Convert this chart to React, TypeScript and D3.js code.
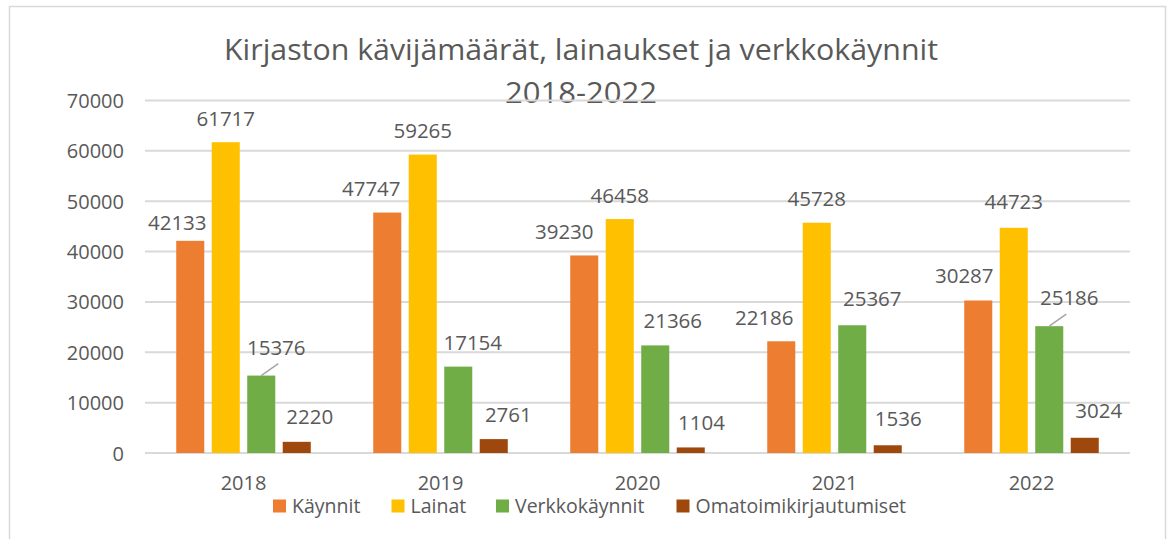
import React from "react";
import * as d3 from "d3";

const years = ["2018", "2019", "2020", "2021", "2022"];
const seriesNames = ["Käynnit", "Lainat", "Verkkokäynnit", "Omatoimikirjautumiset"];
const kaynnit = [42133, 47747, 39230, 22186, 30287];
const lainat = [61717, 59265, 46458, 45728, 44723];
const verkkokaynnit = [15376, 17154, 21366, 25367, 25186];
const omatoimi = [2220, 2761, 1104, 1536, 3024];
const yTicks = [0, 10000, 20000, 30000, 40000, 50000, 60000, 70000];
const colors = ["#ED7D31", "#FFC000", "#70AD47", "#9E480E"];
const titleLines = ["Kirjaston kävijämäärät, lainaukset ja verkkokäynnit", "2018-2022"];

// manual label nudges (dx, dy) per series/year, like moved Excel data labels
const labelNudges = [
  [[-13, 6], [-16, 0], [-20, 0], [-17, 0], [-14, -0.5]],
  [[0, 0], [0, 0], [0, 0], [0, -0.5], [0, -2.5]],
  [[15, -4.5], [14.5, -0.5], [17.5, -0.5], [20, -2.5], [20, -5]],
  [[13, -1], [14.6, -0.3], [10.7, -0.5], [10.5, -3], [14, -3.5]],
];
const leaderLines = [
  [false, false, false, false, false],
  [false, false, false, false, false],
  [true, false, false, false, true],
  [false, false, false, false, false],
];

const W = 1170;
const H = 539;
const FONT = "'Open Sans', 'Noto Sans', sans-serif";
const TEXT = "#595959";

export default function App() {
  const values = [kaynnit, lainat, verkkokaynnit, omatoimi];
  const x0 = d3.scaleBand<string>().domain(years).range([145, 1130]).padding(0);
  const x1 = d3
    .scaleBand<string>()
    .domain(seriesNames)
    .range([0, x0.bandwidth()])
    .paddingInner(0.21)
    .paddingOuter(0.88);
  const y = d3.scaleLinear().domain([0, 70000]).range([453, 100.5]);

  const legendX = [273, 391.5, 496, 676.5];

  return (
    <svg
      width={W}
      height={H}
      style={{ position: "absolute", left: 0, top: 0, background: "#fff" }}
      fontFamily={FONT}
    >
      <rect x={0} y={0} width={W} height={H} fill="#fff" />
      <rect x={9.5} y={6.5} width={1156} height={600} fill="none" stroke="#D9D9D9" strokeWidth={1.5} />
      {titleLines.map((t, i) => (
        <text
          key={i}
          x={581}
          y={i === 0 ? 60 : 102.5}
          textAnchor="middle"
          fontSize={29}
          fill={TEXT}
          textLength={i === 0 ? 714 : 152}
          lengthAdjust="spacingAndGlyphs"
        >
          {t}
        </text>
      ))}
      {yTicks.map((t) => (
        <g key={t}>
          <line x1={145} x2={1130} y1={y(t)} y2={y(t)} stroke="#D9D9D9" strokeWidth={2} />
          <text x={124} y={y(t) + 7.5} textAnchor="end" fontSize={20} fill={TEXT}>
            {t}
          </text>
        </g>
      ))}
      {values.map((vals, si) =>
        vals.map((v, yi) => {
          const bx = (x0(years[yi]) as number) + (x1(seriesNames[si]) as number);
          const bw = x1.bandwidth();
          const top = y(v);
          return (
            <rect key={`b${si}-${yi}`} x={bx} y={top} width={bw} height={y(0) - top} fill={colors[si]} />
          );
        })
      )}
      {values.map((vals, si) =>
        vals.map((v, yi) => {
          const bx = (x0(years[yi]) as number) + (x1(seriesNames[si]) as number);
          const cx = bx + x1.bandwidth() / 2;
          const top = y(v);
          const [dx, dy] = labelNudges[si][yi];
          return (
            <g key={`l${si}-${yi}`}>
              {leaderLines[si][yi] && (
                <line x1={cx} y1={top} x2={cx + 17} y2={top - 12} stroke="#A6A6A6" strokeWidth={1.5} />
              )}
              <text x={cx + dx} y={top - 16.5 + dy} textAnchor="middle" fontSize={20.5} fill={TEXT}>
                {v}
              </text>
            </g>
          );
        })
      )}
      {years.map((yr) => (
        <text
          key={yr}
          x={(x0(yr) as number) + x0.bandwidth() / 2}
          y={490}
          textAnchor="middle"
          fontSize={20}
          fill={TEXT}
        >
          {yr}
        </text>
      ))}
      {seriesNames.map((s, i) => (
        <g key={s}>
          <rect x={legendX[i]} y={499.5} width={13} height={13} fill={colors[i]} />
          <text x={legendX[i] + 19} y={512.5} fontSize={19.5} fill={TEXT}>
            {s}
          </text>
        </g>
      ))}
    </svg>
  );
}
